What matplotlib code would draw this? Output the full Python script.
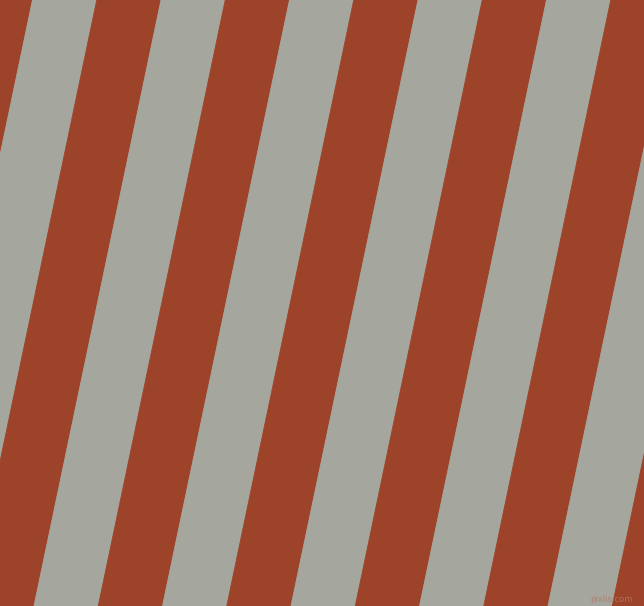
import matplotlib.pyplot as plt

# stripe left edges along the top row (px) and their colours
stripe_left = [-96.0, -31.75, 32.5, 96.75, 161.0, 225.25, 289.5, 353.75,
               418.0, 482.25, 546.5, 610.75, 675.0, 739.25]
stripe_width = 64.25
stripe_colors = ["#a5a69d", "#9c432a"] * 7

W, H = 644, 606
shift = 127.0  # how far a stripe moves left from top to bottom

fig = plt.figure(figsize=(W / 100, H / 100), dpi=100)
ax = fig.add_axes([0, 0, 1, 1])
ax.set_xlim(0, W)
ax.set_ylim(H, 0)
ax.axis("off")

for x0, col in zip(stripe_left, stripe_colors):
  xs = [x0, x0 + stripe_width, x0 + stripe_width - shift, x0 - shift]
  ys = [0, 0, H, H]
  ax.fill(xs, ys, color=col, linewidth=0.6, edgecolor=col)

ax.text(633, 599, "pixlis.com", ha="right", va="center", fontsize=6,
        color="#b07a68", alpha=0.8)

fig.savefig("out.png", dpi=100)
